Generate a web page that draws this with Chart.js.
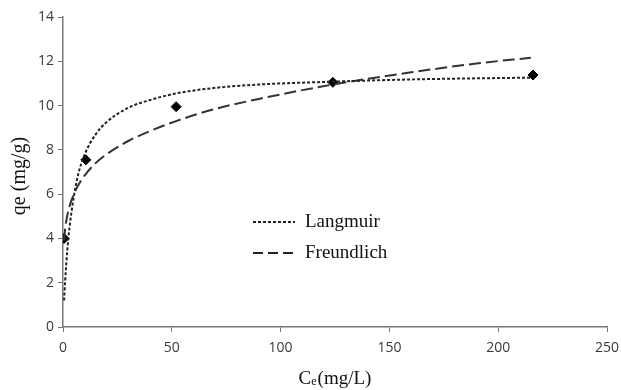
<!DOCTYPE html>
<html>
<head>
<meta charset="utf-8">
<script src="https://cdn.jsdelivr.net/npm/chart.js@4/dist/chart.umd.min.js"></script>
<style>
  html, body { margin: 0; padding: 0; background: #fff; }
  #wrap { width: 621px; height: 390px; }
</style>
</head>
<body>
<div id="wrap"><canvas id="isotherm"></canvas></div>
<script>
// experimental points
const ceExp = [0.5, 10.5, 52, 124, 216];
const qeExp = [4.0, 7.55, 9.95, 11.05, 11.38];

// fitted curves
const ceLang = [0.5, 1, 2, 3, 5, 7, 10, 15, 20, 30, 40, 52, 70, 90, 124, 160, 190, 215];
const qeLang = [1.2, 2.1, 3.5, 4.5, 5.9, 6.9, 7.8, 8.7, 9.25, 9.9, 10.25, 10.55, 10.8, 10.95, 11.08, 11.18, 11.23, 11.26];

const ceFreu = [0.5, 1, 2, 3, 5, 7, 10, 15, 20, 30, 40, 52, 70, 90, 124, 160, 190, 215];
const qeFreu = [3.9, 4.45, 5.05, 5.45, 6.0, 6.4, 6.85, 7.4, 7.8, 8.4, 8.85, 9.3, 9.85, 10.3, 10.95, 11.5, 11.9, 12.16];

const xTicks = [0, 50, 100, 150, 200, 250];
const yTicks = [0, 2, 4, 6, 8, 10, 12, 14];

function pts(xs, ys) {
    return xs.map((x, i) => ({ x: x, y: ys[i] }));
}

const tickFont = { family: 'Open Sans', size: 14 };
const serif = '"Liberation Serif"';

// legend + axis titles drawn by hand
const decorations = {
    id: 'decorations',
    afterDraw(chart) {
        const ctx = chart.ctx;
        const area = chart.chartArea;
        ctx.save();
        ctx.fillStyle = '#111';
        ctx.textBaseline = 'alphabetic';

        // x title: C subscript e (mg/L)
        const cx = (area.left + area.right) / 2;
        const ty = 384;
        ctx.font = '19px ' + serif;
        const wC = ctx.measureText('C').width;
        ctx.font = '12px ' + serif;
        const wE = ctx.measureText('e').width;
        ctx.font = '19px ' + serif;
        const wRest = ctx.measureText('(mg/L)').width;
        let x0 = cx - (wC + wE + 1 + wRest) / 2;
        ctx.textAlign = 'left';
        ctx.fillText('C', x0, ty);
        ctx.font = '12px ' + serif;
        ctx.fillText('e', x0 + wC, ty + 1);
        ctx.font = '19px ' + serif;
        ctx.fillText('(mg/L)', x0 + wC + wE + 1, ty);

        // y title
        ctx.save();
        ctx.translate(25, 176);
        ctx.rotate(-Math.PI / 2);
        ctx.textAlign = 'center';
        ctx.font = '20px ' + serif;
        ctx.fillText('qe (mg/g)', 0, 0);
        ctx.restore();

        // legend
        const items = [
            { label: 'Langmuir', dash: [3, 2], y: 222 },
            { label: 'Freundlich', dash: [10, 5], y: 253 }
        ];
        ctx.lineWidth = 2;
        ctx.strokeStyle = '#222';
        items.forEach(it => {
            ctx.setLineDash(it.dash);
            ctx.beginPath();
            ctx.moveTo(253, it.y);
            ctx.lineTo(295, it.y);
            ctx.stroke();
            ctx.setLineDash([]);
            ctx.font = '19px ' + serif;
            ctx.textAlign = 'left';
            ctx.textBaseline = 'middle';
            ctx.fillText(it.label, 305, it.y);
        });
        ctx.restore();
    }
};

new Chart(document.getElementById('isotherm'), {
    type: 'scatter',
    data: {
        datasets: [
            {
                label: 'Langmuir',
                data: pts(ceLang, qeLang),
                showLine: true,
                borderColor: '#222',
                borderWidth: 2,
                borderDash: [3, 2],
                pointRadius: 0,
                cubicInterpolationMode: 'monotone'
            },
            {
                label: 'Freundlich',
                data: pts(ceFreu, qeFreu),
                showLine: true,
                borderColor: '#333',
                borderWidth: 2,
                borderDash: [12, 5],
                pointRadius: 0,
                cubicInterpolationMode: 'monotone'
            },
            {
                label: 'Experimental',
                data: pts(ceExp, qeExp),
                showLine: false,
                pointStyle: 'rectRot',
                pointRadius: 5,
                backgroundColor: '#000',
                borderColor: '#000'
            }
        ]
    },
    options: {
        responsive: true,
        maintainAspectRatio: false,
        animation: false,
        layout: { padding: { top: 17, right: 14, left: 0, bottom: 0 } },
        plugins: {
            legend: { display: false },
            tooltip: { enabled: false }
        },
        scales: {
            x: {
                type: 'linear',
                min: 0,
                max: 250,
                afterFit(scale) {
                    scale.height = 63;
                    scale.paddingLeft = 0;
                    scale.paddingRight = 0;
                },
                afterBuildTicks(scale) { scale.ticks = xTicks.map(v => ({ value: v })); },
                border: { color: '#777', width: 1.5 },
                grid: { drawOnChartArea: false, tickLength: 5, color: '#777' },
                ticks: { font: tickFont, color: '#3a3a3a', padding: 8 }
            },
            y: {
                type: 'linear',
                min: 0,
                max: 14,
                afterFit(scale) {
                    scale.width = 63;
                    scale.paddingTop = 0;
                    scale.paddingBottom = 0;
                },
                afterBuildTicks(scale) { scale.ticks = yTicks.map(v => ({ value: v })); },
                border: { color: '#777', width: 1.5 },
                grid: { drawOnChartArea: false, tickLength: 5, color: '#777' },
                ticks: { font: tickFont, color: '#3a3a3a', padding: 4 }
            }
        }
    },
    plugins: [decorations]
});
</script>
</body>
</html>
